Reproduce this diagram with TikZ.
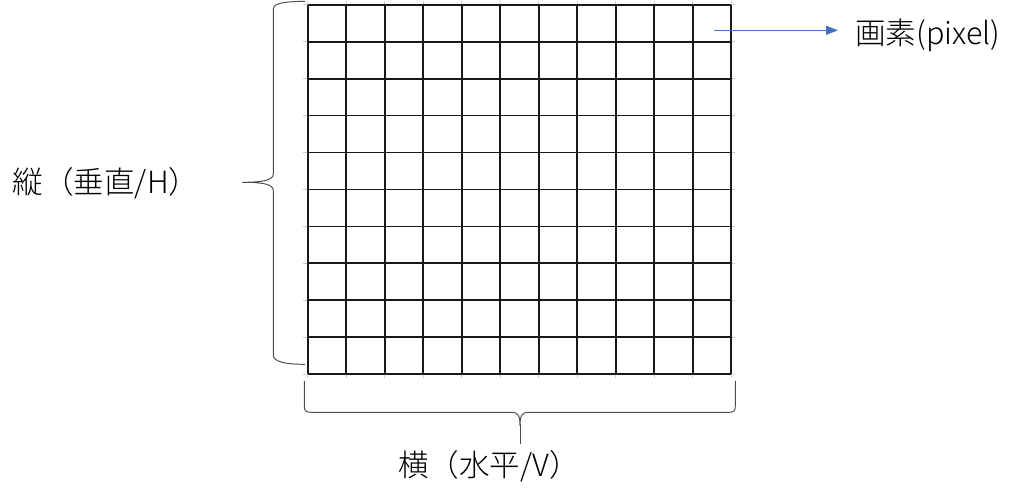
\documentclass[tikz,border=0pt]{standalone}
\usepackage{fontspec}
\setmainfont{Noto Sans CJK JP}[UprightFont={* Light}]
\usetikzlibrary{arrows.meta}
\usetikzlibrary{positioning}
\definecolor{arrowblue}{HTML}{4472C4}

\begin{document}
\begin{tikzpicture}
    [x=0.02cm, y=-0.02cm,
     cellline/.style={draw=black!90, line width=1.05pt},
     ghostline/.style={draw=black!20, line width=0.6pt},
     bracepath/.style={draw=black!70, line width=0.55pt},
     lbl/.style={inner sep=0pt, font=\fontsize{17.4pt}{21pt}\selectfont}]

    \useasboundingbox (0,0) rectangle (1024,492);

    \foreach \i in {0,...,11}
        \draw [ghostline] (307.7+38.5*\i, 1) -- (307.7+38.5*\i, 378);
    \foreach \j in {0,...,10}
        \draw [ghostline] (303, 4.7+36.96*\j) -- (734.5, 4.7+36.96*\j);
    \foreach \i in {0,...,11}
        \draw [cellline] (307.7+38.5*\i, 4.7) -- (307.7+38.5*\i, 374.3);
    \foreach \j in {0,...,10}
        \draw [cellline] (307.7, 4.7+36.96*\j) -- (731.2, 4.7+36.96*\j);

    \draw [bracepath] (305,1.3) .. controls (288,1.5) and (273.3,2.5) .. (273.3,9) -- (273.3,174)
        .. controls (273.3,180.5) and (262,182.3) .. (242,182.3)
        .. controls (262,182.3) and (273.3,184) .. (273.3,190.5) -- (273.3,355)
        .. controls (273.3,362) and (286,364.3) .. (305,364.3);
    \draw [bracepath] (304.3,381) -- (304.3,406) .. controls (304.3,411) and (306,412.3) .. (311,412.3) -- (511,412.3)
        .. controls (518,412.3) and (520,415) .. (520,426)
        .. controls (520,415) and (522,412.3) .. (529,412.3) -- (729,412.3)
        .. controls (734,412.3) and (735.3,411) .. (735.3,406) -- (735.3,381);
    \draw [bracepath] (520,424) -- (520,444);

    \node [lbl] (tate) at (106,183) {縦（垂直/H）};
    \node [lbl] (yoko) at (489,466) {横（水平/V）};

    \coordinate (cell) at (714,30.3);
    \node [lbl, anchor=west] (px) at (855,35) {画素(pixel)};
    \draw [-{Triangle[length=0.24cm, width=0.18cm]}, draw=arrowblue, fill=arrowblue, line width=0.5pt] (cell) -- ([xshift=-0.34cm] px.west |- cell);
\end{tikzpicture}
\end{document}
